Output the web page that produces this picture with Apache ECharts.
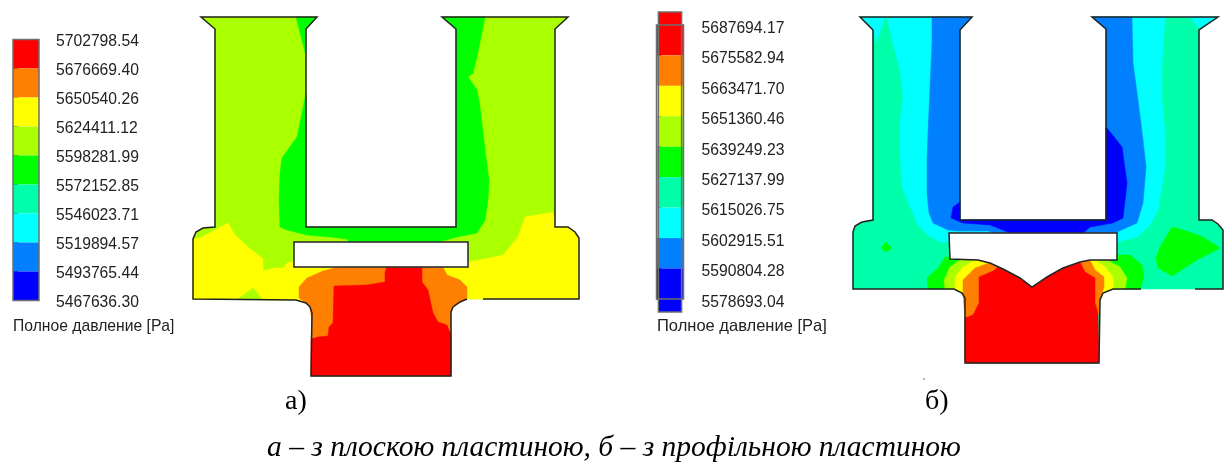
<!DOCTYPE html>
<html>
<head>
<meta charset="utf-8">
<title>Полное давление</title>
<script src="https://cdn.jsdelivr.net/npm/echarts@6/dist/echarts.min.js"></script>
<style>
	html, body { margin: 0; padding: 0; background: #fff; }
	#main { width: 1225px; height: 465px; }
</style>
</head>
<body>
<div id="main"></div>
<script>
//колірна шкала
var bandColors = ['#ff0000', '#ff8000', '#ffff00', '#aaff00', '#00ff00', '#00ffaa', '#00ffff', '#0080ff', '#0000ff'];
var levelsA = [5702798.54, 5676669.40, 5650540.26, 5624411.12, 5598281.99, 5572152.85, 5546023.71, 5519894.57, 5493765.44, 5467636.30];
var levelsB = [5687694.17, 5675582.94, 5663471.70, 5651360.46, 5639249.23, 5627137.99, 5615026.75, 5602915.51, 5590804.28, 5578693.04];
var overhangB = [5692850, 5573500];
var legendName = 'Полное давление [Pa]';
var captionA = 'а)';
var captionB = 'б)';
var captionMain = 'а – з плоскою пластиною, б – з профільною пластиною';

//контури, рисунок а
var aOutline = [[483,299],[579,299],[579,238],[575,232],[568,227],[555,227],[555,29],[568,17],[442,17],[456,29],[456,227],[306,227],[306,29],[317,17],[201,17],[215,29],[215,227],[203,228],[196,232],[193,239],[193,299],[296,300],[306,303],[310,307],[312,313],[311,376],[451,376],[451,312],[453,307],[460,302],[467,299]];
var aGreenCorner = [[296,17],[317,17],[306,29],[305,52]];
var aGreen = [[306,93],[302,113],[297,137],[282,158],[280,173],[279,200],[280,227],[287,230],[307,235],[330,237],[347,239],[350,244],[442,244],[442,241],[457,237],[477,233],[485,220],[488,200],[489,180],[485,150],[480,107],[477,90],[468,77],[473,73],[477,57],[485,17],[442,17],[456,29],[456,227],[306,227]];
var aYellow = [[193,239],[200,238],[228,223],[235,235],[248,247],[263,259],[263,271],[273,268],[283,268],[287,263],[294,261],[294,267],[468,267],[468,262],[490,258],[503,255],[518,237],[525,217],[553,212],[555,227],[568,227],[575,232],[579,238],[579,299],[467,299],[460,302],[453,307],[451,312],[312,313],[310,307],[306,303],[296,300],[193,299]];
var aLimeSpot = [[238,299],[253,288],[262,299]];
var aOrange = [[338,267],[323,271],[307,278],[299,287],[299,298],[306,303],[310,307],[312,323],[311,339],[451,335],[451,312],[453,307],[467,298],[467,287],[460,280],[447,275],[443,267]];
var aRed = [[387,267],[385,272],[385,282],[367,285],[334,286],[333,323],[329,327],[328,336],[318,337],[311,339],[311,376],[451,376],[451,335],[447,325],[438,322],[433,313],[428,290],[422,282],[422,267]];
var aPlate = [[294,242],[468,242],[468,267],[294,267]];

//контури, рисунок б
var bOutline = [[1195,289],[1223,289],[1223,230],[1218,224],[1212,220],[1199,220],[1199,30],[1218,17],[1092,17],[1106,29],[1106,43]];
var bOutline2 = [[1106,43],[1106,220],[960,220],[960,30],[972,17],[860,17],[873,30],[873,220],[862,222],[855,226],[853,232],[853,289],[954,289],[962,293],[965,298],[965,363],[1099,363],[1100,300],[1103,293],[1113,289],[1141,289]];
var bBody = [[1223,289],[1223,230],[1218,224],[1212,220],[1199,220],[1199,30],[1218,17],[1092,17],[1106,29],[1106,220],[960,220],[960,30],[972,17],[860,17],[873,30],[873,220],[862,222],[855,226],[853,232],[853,289],[954,289],[962,293],[965,298],[965,363],[1099,363],[1100,300],[1103,293],[1113,289]];
var bCyanCornerL = [[860,17],[885,17],[876,43],[874,30]];
var bCyanCornerR = [[1190,17],[1218,17],[1200,29]];
var bCyan = [[887,17],[893,43],[900,70],[903,97],[900,123],[900,150],[902,187],[910,207],[913,213],[918,225],[928,235],[940,242],[949,242],[949,233],[1117,233],[1117,242],[1137,237],[1150,225],[1158,210],[1165,167],[1165,133],[1162,100],[1162,67],[1165,17],[1092,17],[1106,29],[1106,220],[960,220],[960,30],[972,17]];
var bAzure = [[932,17],[932,43],[930,87],[928,133],[927,160],[927,193],[929,213],[933,223],[948,230],[957,231],[988,231],[995,234],[1117,234],[1117,232],[1137,223],[1143,203],[1146,167],[1143,140],[1138,100],[1133,63],[1132,17],[1092,17],[1106,29],[1106,220],[960,220],[960,30],[972,17]];
var bBlue = [[960,202],[953,207],[951,218],[963,223],[990,225],[1013,234],[1082,234],[1090,227],[1113,223],[1123,218],[1127,183],[1122,147],[1115,138],[1106,127],[1106,220],[960,220]];
var bGreenBig = [[1172,227],[1183,230],[1203,237],[1220,248],[1197,260],[1172,276],[1158,268],[1156,258],[1160,247]];
var bGreenSpot = [[886,242],[892,248],[886,252],[881,248]];
var bGreen = [[928,289],[927,278],[938,268],[945,257],[949,257],[1117,255],[1130,255],[1142,265],[1144,277],[1140,289],[1113,289],[1103,293],[1100,300],[965,298],[962,293],[954,289]];
var bLime = [[945,289],[944,280],[950,267],[960,260],[1107,260],[1120,267],[1127,278],[1125,289],[1113,289],[1103,293],[1100,300],[965,298],[962,293],[954,289]];
var bYellow = [[955,289],[955,277],[963,267],[975,260],[1095,260],[1105,267],[1113,277],[1113,289],[1103,293],[1100,300],[965,298],[962,293]];
var bOrange = [[963,295],[963,280],[975,268],[992,262],[1090,260],[1095,270],[1104,277],[1104,287],[1100,300],[1099,314],[965,318]];
var bRed = [[965,318],[973,315],[979,303],[979,277],[993,271],[1005,262],[1080,262],[1085,272],[1095,278],[1095,303],[1098,313],[1099,363],[965,363]];
var bPlate = [[949,233],[1117,233],[1117,260],[1090,260],[1080,262],[1063,268],[1047,277],[1032,287],[1020,278],[1003,269],[990,263],[978,260],[950,259]];
var speck = [[924,379]];

//порядок малювання: [контур, колір]; пластини йдуть останніми
var fills = [
	[aOutline, '#aaff00'], [aGreenCorner, '#00ff00'], [aGreen, '#00ff00'], [aYellow, '#ffff00'], [aLimeSpot, '#aaff00'],
	[aOrange, '#ff8000'], [aRed, '#ff0000'], [aPlate, '#ffffff'],
	[bBody, '#00ffaa'], [bCyanCornerL, '#00ffff'], [bCyanCornerR, '#00ffff'], [bCyan, '#00ffff'], [bAzure, '#0080ff'], [bBlue, '#0000ff'],
	[bGreenBig, '#00ff00'], [bGreenSpot, '#00ff00'], [bGreen, '#00ff00'], [bLime, '#aaff00'], [bYellow, '#ffff00'], [bOrange, '#ff8000'], [bRed, '#ff0000'], [bPlate, '#ffffff']
];
var strokes = [[aOutline, false], [aPlate, true], [bOutline, false], [bOutline2, false], [bPlate, true]];

function indexData(list) {
	var out = [];
	for (var i = 0; i < list.length; i++) {
		out.push([i]);
	}
	return out;
}
function toPixels(pts, api) {
	var res = [];
	for (var i = 0; i < pts.length; i++) {
		res.push(api.coord(pts[i]));
	}
	return res;
}
function renderFill(params, api) {
	var item = fills[params.dataIndex];
	return {
		type: 'polygon',
		shape: { points: toPixels(item[0], api) },
		style: { fill: item[1], stroke: item[1], lineWidth: 0.5 }
	};
}
function renderStroke(params, api) {
	var item = strokes[params.dataIndex];
	return {
		type: item[1] ? 'polygon' : 'polyline',
		shape: { points: toPixels(item[0], api) },
		style: { fill: 'none', stroke: '#222222', lineWidth: 1.5 }
	};
}
//смуги шкали: [нижнє значення, верхнє значення, колір, зліва, справа]
function legendBands(levels) {
	var out = [];
	for (var i = 0; i < bandColors.length; i++) {
		out.push([levels[i + 1], levels[i], i, 0, 1]);
	}
	return out;
}
function renderBand(params, api) {
	var p0 = api.coord([api.value(3), api.value(1)]);
	var p1 = api.coord([api.value(4), api.value(0)]);
	return {
		type: 'rect',
		shape: { x: p0[0], y: p0[1], width: p1[0] - p0[0], height: p1[1] - p0[1] },
		style: { fill: bandColors[api.value(2)], stroke: null }
	};
}
function renderFrame(params, api) {
	var p0 = api.coord([api.value(3), api.value(1)]);
	var p1 = api.coord([api.value(4), api.value(0)]);
	return {
		type: 'rect',
		shape: { x: p0[0], y: p0[1], width: p1[0] - p0[0], height: p1[1] - p0[1] },
		style: { fill: 'none', stroke: '#6e6e6e', lineWidth: 1.5 }
	};
}
//підписи шкали трохи нижче рисок, зсув задається висотою рядка
function legendAxis(gridIndex, levels, lo, hi, margin, lineH) {
	return {
		gridIndex: gridIndex,
		type: 'value',
		position: 'right',
		min: lo,
		max: hi,
		splitLine: { show: false },
		axisLine: { show: false },
		axisTick: { show: true, length: 5, customValues: levels, lineStyle: { color: '#333333' } },
		axisLabel: {
			customValues: levels,
			margin: margin,
			color: '#222222',
			fontFamily: 'Liberation Sans',
			fontSize: 15.7,
			verticalAlign: 'top',
			lineHeight: lineH,
			formatter: function(v) { return v.toFixed(2); }
		}
	};
}
function hiddenX(gridIndex, lo, hi) {
	return { gridIndex: gridIndex, type: 'value', min: lo, max: hi, show: false };
}

var bandsB = legendBands(levelsB);
bandsB.unshift([levelsB[0], overhangB[0], 0, 0.07, 0.93]);
bandsB.push([overhangB[1], levelsB[9], 8, 0.07, 0.93]);

var framesA = [[levelsA[9], levelsA[0], 0, 0, 1]];
var framesB = [[overhangB[1], overhangB[0], 0, 0.07, 0.93], [levelsB[9], levelsB[0], 0, 0, 1]];

var option = {
	animation: false,
	backgroundColor: '#ffffff',
	grid: [
		{ left: 0, top: 0, width: 1225, height: 465 },
		{ left: 13, top: 39.5, width: 26, height: 261 },
		{ left: 656.5, top: 12, width: 27, height: 300 }
	],
	xAxis: [hiddenX(0, 0, 1225), hiddenX(1, 0, 1), hiddenX(2, 0, 1)],
	yAxis: [
		{ gridIndex: 0, type: 'value', min: 0, max: 465, inverse: true, show: false },
		legendAxis(1, levelsA, levelsA[9], levelsA[0], 17, 5),
		legendAxis(2, levelsB, overhangB[1], overhangB[0], 18, 7)
	],
	series: [
		{ type: 'custom', xAxisIndex: 0, yAxisIndex: 0, clip: false, silent: true, renderItem: renderFill, data: indexData(fills), z: 2 },
		{ type: 'custom', xAxisIndex: 0, yAxisIndex: 0, clip: false, silent: true, renderItem: renderStroke, data: indexData(strokes), z: 3 },
		{ type: 'scatter', xAxisIndex: 0, yAxisIndex: 0, silent: true, symbolSize: 2, itemStyle: { color: '#888888' }, data: speck, z: 3 },
		{ type: 'custom', xAxisIndex: 1, yAxisIndex: 1, clip: false, silent: true, renderItem: renderBand, data: legendBands(levelsA), z: 2 },
		{ type: 'custom', xAxisIndex: 1, yAxisIndex: 1, clip: false, silent: true, renderItem: renderFrame, data: framesA, z: 3 },
		{ type: 'custom', xAxisIndex: 2, yAxisIndex: 2, clip: false, silent: true, renderItem: renderBand, data: bandsB, z: 2 },
		{ type: 'custom', xAxisIndex: 2, yAxisIndex: 2, clip: false, silent: true, renderItem: renderFrame, data: framesB, z: 3 }
	],
	graphic: [
		{ type: 'text', left: 13, top: 319, style: { text: legendName, fontFamily: 'Liberation Sans', fontSize: 15.7, fill: '#222222' } },
		{ type: 'text', left: 657, top: 318, style: { text: legendName, fontFamily: 'Liberation Sans', fontSize: 16.5, fill: '#222222' } },
		{ type: 'text', left: 285, top: 388, style: { text: captionA, fontFamily: 'Liberation Serif', fontSize: 28, fill: '#000000' } },
		{ type: 'text', left: 925, top: 388, style: { text: captionB, fontFamily: 'Liberation Serif', fontSize: 28, fill: '#000000' } },
		{ type: 'text', left: 267, top: 433, style: { text: captionMain, fontFamily: 'Liberation Serif', fontStyle: 'italic', fontSize: 29.5, fill: '#000000' } }
	]
};

var myChart = echarts.init(document.getElementById('main'));
myChart.setOption(option);
window.onresize = function() {
	myChart.resize();
};
</script>
</body>
</html>
